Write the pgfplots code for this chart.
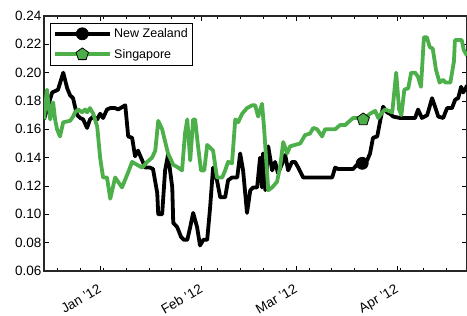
\documentclass[border=0pt]{standalone}
\usepackage{pgfplots}
\pgfplotsset{compat=1.18}
\usepackage{fontspec}
\setmainfont{Liberation Sans}
\definecolor{sgreen}{RGB}{77,175,74}
\begin{document}
\begin{tikzpicture}
\useasboundingbox (-44pt,-45pt) rectangle (423pt,271pt);
\begin{axis}[
  scale only axis,
  width=423pt, height=255pt,
  xmin=-17.2, xmax=112.4,
  ymin=0.06, ymax=0.24,
  ytick={0.06,0.08,...,0.241},
  yticklabel style={/pgf/number format/fixed,/pgf/number format/fixed zerofill,/pgf/number format/precision=2,/pgf/number format/assume math mode=true,xshift=1pt},
  xtick={0,31,60,91},
  xticklabels={Jan '12,Feb '12,Mar '12,Apr '12},
  minor xtick={-13,-6,...,106},
  tick align=inside,
  major tick length=5pt,
  minor tick length=3pt,
  every tick/.style={black, line width=0.9pt},
  axis line style={black!85, line width=1.3pt},
  tick label style={font=\fontsize{13.5}{15}\selectfont},
  xticklabel style={rotate=30, anchor=north east, yshift=-6pt, xshift=-5pt},
  legend style={at={(0.0142,0.974)}, anchor=north west, draw=black, line width=0.8pt,
    font=\fontsize{12.5}{14}\selectfont, inner xsep=3pt, inner ysep=3.5pt, row sep=6pt,
    cells={anchor=west}},
  legend image code/.code={\draw[mark repeat=2,mark phase=2,#1] plot coordinates {(0pt,0pt)(27pt,0pt)(55pt,0pt)};},
  every axis plot/.append style={line width=3.8pt, line join=round},
]
\addlegendimage{black, line width=3.8pt, mark=*, mark size=6pt, mark options={fill=black, line width=0.8pt}}
\addlegendentry{New Zealand}
\addlegendimage{sgreen, line width=3.8pt, mark=pentagon*, mark size=6.5pt, mark options={fill=sgreen, draw=black, line width=0.8pt}}
\addlegendentry{Singapore}
\addplot[forget plot, black, mark=*, mark size=6pt, mark indices={82}, mark options={fill=black, line width=0.8pt}] coordinates {
(-17.2,0.167)(-14.7,0.186)(-12.9,0.188)(-11.3,0.200)(-10.1,0.189)(-9.2,0.184)(-8.3,0.182)(-7.7,0.176)(-7.0,0.170)(-6.1,0.168)
(-5.2,0.167)(-4.0,0.161)(-3.1,0.167)(-2.1,0.169)(-0.9,0.167)(0,0.171)(0.9,0.168)(2.1,0.174)(3.1,0.175)(4.6,0.175)
(5.5,0.174)(7.7,0.177)(8.6,0.155)(9.8,0.154)(10.7,0.141)(11.6,0.145)(12.9,0.138)(13.8,0.133)(15.3,0.133)(16.2,0.132)
(17.5,0.115)(17.8,0.100)(19.0,0.100)(19.9,0.131)(20.8,0.142)(22.1,0.119)(22.4,0.094)(23.6,0.091)(24.8,0.084)(25.7,0.082)
(26.7,0.082)(27.6,0.091)(28.5,0.101)(29.7,0.091)(30.6,0.078)(31.6,0.082)(32.8,0.082)(33.7,0.105)(34.6,0.133)(35.8,0.124)
(36.8,0.112)(38.3,0.112)(39.2,0.124)(40.4,0.126)(42.0,0.126)(42.9,0.143)(43.8,0.131)(45.0,0.101)(46.0,0.117)(46.9,0.119)
(48.1,0.119)(49.0,0.140)(49.6,0.119)(49.9,0.143)(50.6,0.117)(51.5,0.148)(52.7,0.131)(53.6,0.137)(54.5,0.129)(55.8,0.136)
(56.7,0.142)(57.6,0.131)(58.8,0.137)(59.7,0.137)(60.7,0.133)(62.2,0.126)(71.1,0.126)(72.0,0.133)(72.9,0.132)(77.5,0.132)
(78.7,0.135)(80.3,0.136)(81.8,0.138)(82.7,0.143)(83.6,0.154)(84.9,0.155)(85.8,0.166)(86.7,0.176)(87.9,0.172)(88.8,0.171)
(89.8,0.169)(91.9,0.168)(96.5,0.168)(97.4,0.174)(98.6,0.168)(100.2,0.170)(101.7,0.182)(102.6,0.176)(103.6,0.169)(105.1,0.168)
(106.3,0.175)(107.8,0.175)(108.8,0.181)(109.7,0.182)(110.6,0.190)(111.2,0.186)(111.8,0.188)(112.4,0.191)
};
\addplot[forget plot, sgreen, mark=pentagon*, mark size=6.5pt, mark indices={84}, mark options={fill=sgreen, draw=black, line width=0.8pt}] coordinates {
(-17.2,0.167)(-16.3,0.188)(-15.3,0.167)(-14.4,0.179)(-13.8,0.167)(-13.2,0.160)(-12.3,0.155)(-11.3,0.165)(-9.2,0.166)(-8.3,0.169)
(-7.7,0.172)(-6.7,0.174)(-5.5,0.172)(-4.6,0.174)(-4.0,0.172)(-3.1,0.175)(-2.1,0.171)(-0.9,0.162)(0,0.140)(0.9,0.126)
(2.1,0.126)(3.1,0.111)(4.6,0.126)(6.7,0.119)(8.3,0.128)(9.8,0.137)(11.3,0.135)(12.9,0.133)(14.4,0.137)(15.9,0.140)
(16.9,0.145)(17.8,0.166)(19.0,0.160)(20.8,0.143)(22.4,0.135)(23.9,0.133)(25.1,0.131)(26.0,0.157)(26.7,0.167)(27.6,0.138)
(28.5,0.167)(29.1,0.167)(30.0,0.148)(30.9,0.131)(31.9,0.131)(32.8,0.149)(33.7,0.147)(34.6,0.145)(35.8,0.126)(37.4,0.126)
(38.3,0.131)(39.2,0.137)(40.4,0.136)(41.4,0.167)(42.3,0.165)(43.5,0.171)(45.0,0.175)(46.6,0.177)(47.5,0.177)(48.4,0.169)
(49.6,0.178)(50.2,0.162)(51.5,0.117)(52.7,0.119)(54.2,0.123)(55.1,0.133)(56.1,0.151)(57.3,0.143)(58.2,0.148)(59.7,0.149)
(61.3,0.150)(62.8,0.156)(64.3,0.157)(65.3,0.161)(66.5,0.160)(68.0,0.155)(68.9,0.160)(72.0,0.160)(73.5,0.163)(75.1,0.163)
(76.0,0.165)(77.5,0.168)(79.0,0.168)(80.6,0.167)(82.7,0.171)(84.3,0.173)(85.2,0.168)(86.4,0.172)(87.3,0.174)(89.5,0.172)
(90.7,0.200)(91.6,0.174)(92.3,0.170)(93.2,0.188)(94.4,0.189)(95.3,0.200)(96.5,0.200)(97.4,0.197)(98.3,0.190)(99.2,0.225)
(100.1,0.225)(101.0,0.218)(101.9,0.217)(102.9,0.202)(104.0,0.193)(105.1,0.195)(105.8,0.193)(107.3,0.193)(108.4,0.208)(108.7,0.223)
(110.8,0.223)(111.4,0.216)(112.4,0.212)
};
\end{axis}
\end{tikzpicture}
\end{document}
